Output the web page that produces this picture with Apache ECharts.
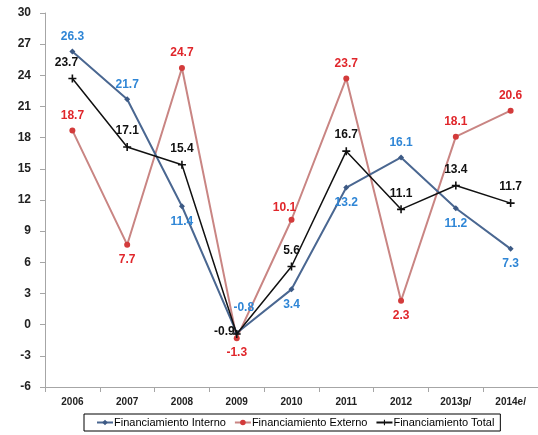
<!DOCTYPE html>
<html>
<head>
<meta charset="utf-8">
<script src="https://cdn.jsdelivr.net/npm/echarts@6/dist/echarts.min.js"></script>
<style>
  html, body { margin: 0; padding: 0; background: #fff; }
  #chart { width: 538px; height: 435px; }
</style>
</head>
<body>
<div id="chart"></div>
<script>
// Financing growth rates by year
const years = ['2006', '2007', '2008', '2009', '2010', '2011', '2012', '2013p/', '2014e/'];
const interno = [26.3, 21.7, 11.4, -0.8, 3.4, 13.2, 16.1, 11.2, 7.3];
const externo = [18.7, 7.7, 24.7, -1.3, 10.1, 23.7, 2.3, 18.1, 20.6];
const total = [23.7, 17.1, 15.4, -0.9, 5.6, 16.7, 11.1, 13.4, 11.7];
const yTicks = [-6, -3, 0, 3, 6, 9, 12, 15, 18, 21, 24, 27, 30];

// label placement per point
const internoPos = ['top', 'top', 'bottom', 'top', 'bottom', 'bottom', 'top', 'bottom', 'bottom'];
const externoPos = ['top', 'bottom', 'top', 'bottom', 'top', 'top', 'bottom', 'top', 'top'];
const totalPos = ['top', 'top', 'top', 'left', 'top', 'top', 'top', 'top', 'top'];

const fontStack = 'Liberation Sans, Arial, sans-serif';
const labelFont = { fontFamily: fontStack, fontWeight: 'bold', fontSize: 12 };
const plusPath = 'path://M4,0 L6,0 L6,4 L10,4 L10,6 L6,6 L6,10 L4,10 L4,6 L0,6 L0,4 L4,4 Z';

function points(values, positions, color, offsets) {
  return values.map((v, i) => ({
    value: v,
    label: Object.assign({
      show: true,
      position: positions[i],
      color: color,
      distance: 6,
      offset: offsets[i] || [0, 0],
      formatter: (p) => p.value.toFixed(1)
    }, labelFont)
  }));
}

const chart = echarts.init(document.getElementById('chart'));
chart.setOption({
  animation: false,
  grid: { left: 45, top: 13, width: 496, height: 374 },
  xAxis: {
    type: 'category',
    data: years,
    boundaryGap: true,
    axisLine: { onZero: false, lineStyle: { color: '#a6a6a6' } },
    axisTick: { show: true, lineStyle: { color: '#a6a6a6' }, length: 5 },
    axisLabel: { color: '#222', fontSize: 10, fontWeight: 'bold', fontFamily: fontStack, margin: 10 }
  },
  yAxis: {
    type: 'value',
    min: yTicks[0],
    max: yTicks[yTicks.length - 1],
    interval: 3,
    splitLine: { show: false },
    axisLine: { show: true, lineStyle: { color: '#a6a6a6' } },
    axisTick: { show: true, lineStyle: { color: '#a6a6a6' }, length: 5 },
    axisLabel: { color: '#222', fontSize: 12, fontWeight: 'bold', fontFamily: fontStack, margin: 14 }
  },
  legend: {
    left: 84,
    top: 414,
    padding: [3, 6, 3, 12],
    itemGap: 8,
    itemWidth: 16,
    itemHeight: 7,
    borderColor: '#000',
    borderWidth: 1,
    borderRadius: 0,
    textStyle: { color: '#000', fontSize: 11, fontFamily: fontStack, padding: [0, 0, 0, -4] },
    data: ['Financiamiento Interno', 'Financiamiento Externo', 'Financiamiento Total']
  },
  series: [
    {
      name: 'Financiamiento Interno',
      type: 'line',
      data: points(interno, internoPos, '#2f86d6', { 3: [7, -10] }),
      symbol: 'diamond',
      symbolSize: 6,
      lineStyle: { color: '#4a6791', width: 2 },
      itemStyle: { color: '#3d5a85' },
      z: 3
    },
    {
      name: 'Financiamiento Externo',
      type: 'line',
      data: points(externo, externoPos, '#e0262b', { 4: [-7, 3] }),
      symbol: 'circle',
      symbolSize: 6,
      lineStyle: { color: '#c98583', width: 2 },
      itemStyle: { color: '#d33b3b' },
      z: 2
    },
    {
      name: 'Financiamiento Total',
      type: 'line',
      data: points(total, totalPos, '#111', { 0: [-6, 0], 3: [8, -2] }),
      symbol: plusPath,
      symbolSize: 8,
      lineStyle: { color: '#111', width: 1.5 },
      itemStyle: { color: '#111' },
      z: 4
    }
  ]
});
</script>
</body>
</html>
